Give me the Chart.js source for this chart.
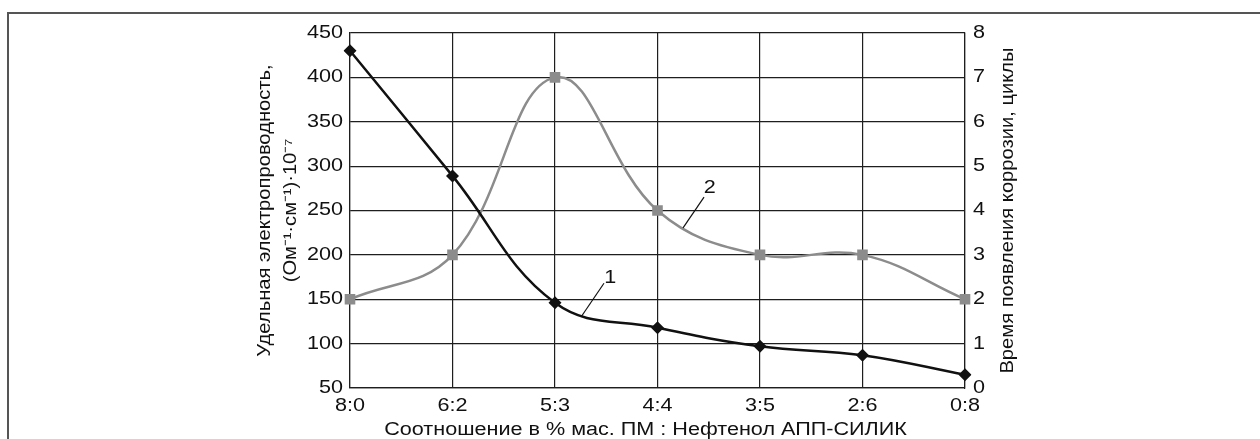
<!DOCTYPE html>
<html>
<head>
<meta charset="utf-8">
<script src="https://cdn.jsdelivr.net/npm/chart.js@4.4.1/dist/chart.umd.min.js"></script>
<style>
  html, body { margin: 0; padding: 0; background: #fff; }
  #wrap { width: 1260px; height: 439px; }
</style>
</head>
<body>
<div id="wrap"><canvas id="c" width="1260" height="439"></canvas></div>
<script>
// ---- data ----
const categories = ['8:0', '6:2', '5:3', '4:4', '3:5', '2:6', '0:8'];
const conductivity = [430, 289, 146, 118, 97, 87, 65];      // curve 1, left axis
const corrosionCycles = [2, 3, 7, 4, 3, 3, 2];               // curve 2, right axis
const leftTickRange = [50, 450, 50];
const rightTickRange = [0, 8, 1];
const xTitle = 'Соотношение в % мас. ПМ : Нефтенол АПП-СИЛИК';
const leftTitle = ['Удельная электропроводность,', '(Ом⁻¹·см⁻¹)·10⁻⁷'];
const rightTitle = 'Время появления коррозии, циклы';
const curveNames = ['1', '2'];

// curve labels, in data units (category index, axis value)
const curveLabelSpots = [
  { axis: 'y',  at: [2.54, 174], from: [2.478, 168], to: [2.254, 130] },
  { axis: 'y2', at: [3.51, 4.51], from: [3.454, 4.30], to: [3.249, 3.61] }
];

const FONT = '"Liberation Sans", Arial, Helvetica, sans-serif';
const GRID = '#1e1e1e';
// the reference typeface is set wider than Arial: stretch text along its baseline
const TEXT_STRETCH_H = 1.2;
const TEXT_STRETCH_V = 1.12;

(function () {
  const proto = CanvasRenderingContext2D.prototype;
  const orig = proto.fillText;
  proto.fillText = function (text, x, y, maxWidth) {
    const t = this.getTransform();
    const vertical = Math.abs(t.b) > Math.abs(t.a);
    const sx = vertical ? TEXT_STRETCH_V : TEXT_STRETCH_H;
    this.save();
    this.translate(x, y);
    this.scale(sx, 1);
    if (maxWidth !== undefined && maxWidth !== null) orig.call(this, text, 0, 0, maxWidth / sx);
    else orig.call(this, text, 0, 0);
    this.restore();
  };
})();

const framePlugin = {
  id: 'frame',
  beforeDraw(chart) {
    const ctx = chart.ctx;
    ctx.save();
    ctx.strokeStyle = '#555';
    ctx.lineWidth = 2;
    ctx.strokeRect(8, 13, 1400, 600);
    ctx.restore();
  }
};

const labelPlugin = {
  id: 'curveLabels',
  afterDatasetsDraw(chart) {
    const ctx = chart.ctx;
    const xs = chart.scales.x;
    ctx.save();
    curveLabelSpots.forEach((s, i) => {
      const ys = chart.scales[s.axis];
      ctx.strokeStyle = '#111';
      ctx.lineWidth = 1.2;
      ctx.beginPath();
      ctx.moveTo(xs.getPixelForValue(s.from[0]), ys.getPixelForValue(s.from[1]));
      ctx.lineTo(xs.getPixelForValue(s.to[0]), ys.getPixelForValue(s.to[1]));
      ctx.stroke();
      ctx.fillStyle = '#111';
      ctx.font = '18px ' + FONT;
      ctx.textAlign = 'center';
      ctx.textBaseline = 'middle';
      ctx.fillText(curveNames[i], xs.getPixelForValue(s.at[0]), ys.getPixelForValue(s.at[1]));
    });
    ctx.restore();
  },
  afterDraw(chart) {
    const ctx = chart.ctx;
    const a = chart.chartArea;
    ctx.save();
    ctx.translate(1008, (a.top + a.bottom) / 2);
    ctx.rotate(-Math.PI / 2);
    ctx.fillStyle = '#111';
    ctx.font = '18px ' + FONT;
    ctx.textAlign = 'center';
    ctx.textBaseline = 'middle';
    ctx.fillText(rightTitle, 0, 0);
    ctx.restore();
  }
};

new Chart(document.getElementById('c'), {
  type: 'line',
  data: {
    labels: categories,
    datasets: [
      {
        label: curveNames[0],
        data: conductivity,
        yAxisID: 'y',
        borderColor: '#111',
        backgroundColor: '#111',
        borderWidth: 2.5,
        pointStyle: 'rectRot',
        pointRadius: 6.5,
        pointBorderWidth: 0,
        tension: 0.4,
        fill: false
      },
      {
        label: curveNames[1],
        data: corrosionCycles,
        yAxisID: 'y2',
        borderColor: '#8c8c8c',
        backgroundColor: '#8c8c8c',
        borderWidth: 2.5,
        pointStyle: 'rect',
        pointRadius: 7.5,
        pointBorderWidth: 0,
        tension: 0.4,
        fill: false
      }
    ]
  },
  options: {
    responsive: false,
    animation: false,
    layout: { padding: { left: 240, top: 33, right: 0, bottom: 0 } },
    plugins: { legend: { display: false }, tooltip: { enabled: false } },
    scales: {
      x: {
        type: 'category',
        offset: false,
        grid: { color: GRID, lineWidth: 1.2, drawTicks: false },
        border: { color: GRID, width: 1.2 },
        ticks: { color: '#111', font: { family: FONT, size: 18 }, padding: 7, maxRotation: 0, autoSkip: false },
        title: { display: true, text: xTitle + '\u00a0\u00a0\u00a0\u00a0', color: '#111', font: { family: FONT, size: 18 }, padding: { top: 0, bottom: -2 } },
        afterFit(s) { s.height = 51; }
      },
      y: {
        position: 'left',
        min: leftTickRange[0], max: leftTickRange[1],
        grid: { color: GRID, lineWidth: 1.2, drawTicks: false },
        border: { color: GRID, width: 1.2 },
        ticks: { stepSize: leftTickRange[2], color: '#111', font: { family: FONT, size: 18 }, padding: 7 },
        title: { display: true, text: leftTitle, color: '#111', font: { family: FONT, size: 18, lineHeight: 1.45 }, padding: { top: 12, bottom: 0 } },
        afterFit(s) { s.width = 110; }
      },
      y2: {
        position: 'right',
        min: rightTickRange[0], max: rightTickRange[1],
        grid: { drawOnChartArea: false, drawTicks: false },
        border: { color: GRID, width: 1.2 },
        ticks: { stepSize: rightTickRange[2], color: '#111', font: { family: FONT, size: 18 }, padding: 8 },
        title: { display: false, text: rightTitle },
        afterFit(s) { s.width = 295; }
      }
    }
  },
  plugins: [framePlugin, labelPlugin]
});
</script>
</body>
</html>
